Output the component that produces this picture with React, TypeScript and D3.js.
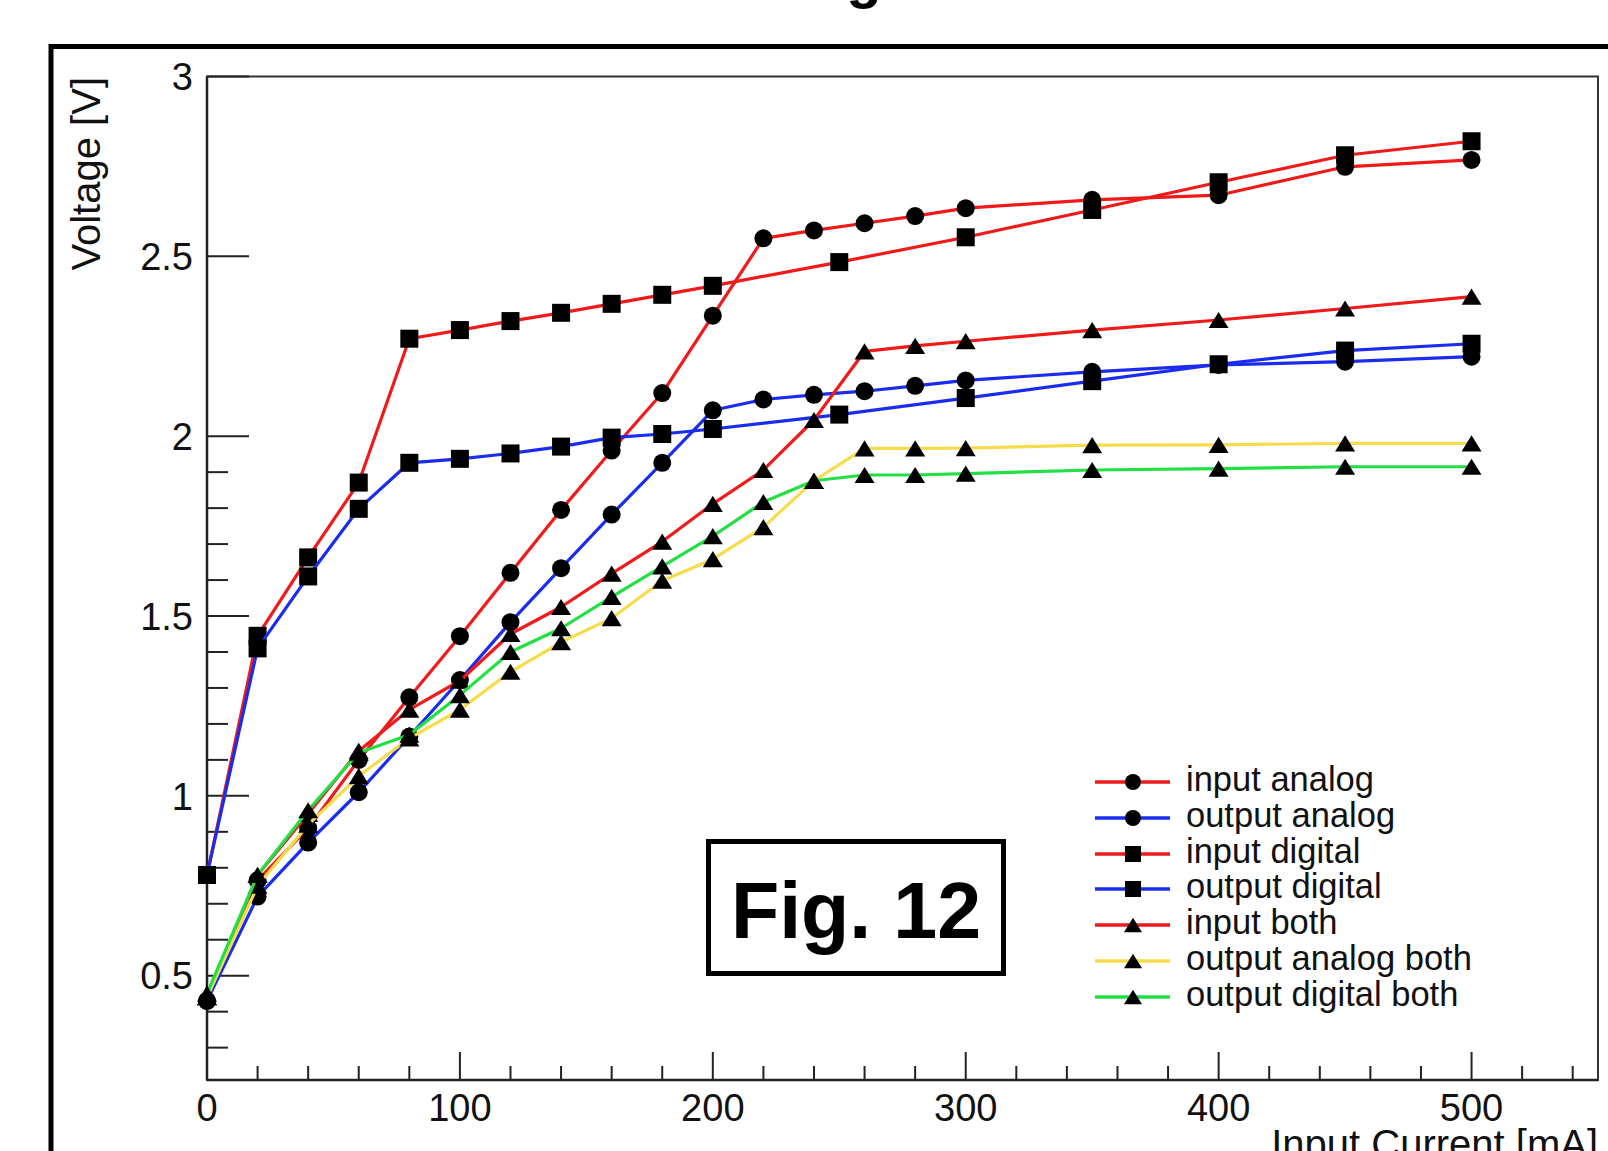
import React from "react";
import * as d3 from "d3";

const X_ANALOG = [0, 20, 40, 60, 80, 100, 120, 140, 160, 180, 200, 220, 240, 260, 280, 300, 350, 400, 450, 500];
const X_DIGITAL = [0, 20, 40, 60, 80, 100, 120, 140, 160, 180, 200, 250, 300, 350, 400, 450, 500];
const X_BOTH = [0, 20, 40, 60, 80, 100, 120, 140, 160, 180, 200, 220, 240, 260, 280, 300, 350, 400, 450, 500];

const inputAnalog = [0.43, 0.765, 0.91, 1.10, 1.274, 1.444, 1.62, 1.795, 1.96, 2.12, 2.335, 2.55, 2.572, 2.592, 2.612, 2.634, 2.657, 2.670, 2.749, 2.768];
const outputAnalog = [0.43, 0.72, 0.87, 1.01, 1.165, 1.322, 1.483, 1.633, 1.782, 1.926, 2.072, 2.102, 2.115, 2.125, 2.140, 2.155, 2.179, 2.198, 2.207, 2.221];
const inputDigital = [0.78, 1.445, 1.663, 1.871, 2.271, 2.295, 2.320, 2.343, 2.368, 2.393, 2.418, 2.484, 2.553, 2.629, 2.706, 2.781, 2.820];
const outputDigital = [0.78, 1.41, 1.61, 1.798, 1.926, 1.937, 1.952, 1.971, 1.996, 2.006, 2.020, 2.060, 2.106, 2.153, 2.200, 2.238, 2.257];
const inputBoth = [0.44, 0.78, 0.95, 1.125, 1.24, 1.32, 1.45, 1.525, 1.618, 1.707, 1.812, 1.906, 2.045, 2.236, 2.251, 2.264, 2.295, 2.323, 2.355, 2.388];
const outputAnalogBoth = [0.44, 0.75, 0.92, 1.055, 1.16, 1.24, 1.345, 1.427, 1.494, 1.598, 1.658, 1.747, 1.876, 1.966, 1.966, 1.967, 1.975, 1.976, 1.980, 1.980];
const outputDigitalBoth = [0.45, 0.78, 0.96, 1.12, 1.17, 1.28, 1.40, 1.466, 1.553, 1.638, 1.722, 1.817, 1.876, 1.892, 1.892, 1.896, 1.906, 1.910, 1.915, 1.915];

const X_TICKS = [0, 100, 200, 300, 400, 500];
const Y_TICKS = [0.5, 1, 1.5, 2, 2.5, 3];

const RED = "#f01a1a";
const BLUE = "#1a2cf0";
const YELLOW = "#f6dc4c";
const GREEN = "#22e044";

type Series = { name: string; xs: number[]; ys: number[]; color: string; marker: "circle" | "square" | "triangle" };

const SERIES: Series[] = [
  { name: "input analog", xs: X_ANALOG, ys: inputAnalog, color: RED, marker: "circle" },
  { name: "output analog", xs: X_ANALOG, ys: outputAnalog, color: BLUE, marker: "circle" },
  { name: "input digital", xs: X_DIGITAL, ys: inputDigital, color: RED, marker: "square" },
  { name: "output digital", xs: X_DIGITAL, ys: outputDigital, color: BLUE, marker: "square" },
  { name: "input both", xs: X_BOTH, ys: inputBoth, color: RED, marker: "triangle" },
  { name: "output analog both", xs: X_BOTH, ys: outputAnalogBoth, color: YELLOW, marker: "triangle" },
  { name: "output digital both", xs: X_BOTH, ys: outputDigitalBoth, color: GREEN, marker: "triangle" },
];

const FONT = "'Liberation Sans', Arial, Helvetica, sans-serif";

function Marker({ type, cx, cy, s }: { type: string; cx: number; cy: number; s: number }) {
  if (type === "circle") return <circle cx={cx} cy={cy} r={s / 2} fill="#000" />;
  if (type === "square") return <rect x={cx - s / 2} y={cy - s / 2} width={s} height={s} fill="#000" />;
  const h = s * 0.9;
  return (
    <path
      d={`M${cx - s / 2 - 1},${cy + h / 2} L${cx + s / 2 + 1},${cy + h / 2} L${cx},${cy - h / 2} Z`}
      fill="#000"
    />
  );
}

export default function App() {
  const W = 1608;
  const H = 1151;
  const left = 207;
  const right = 1598;
  const top = 76.5;
  const bottom = 1080;
  const x = d3.scaleLinear().domain([0, 550]).range([left, right]);
  const y = d3.scaleLinear().domain([0.21, 3.0]).range([bottom, top]);

  const line = (xs: number[], ys: number[]) =>
    d3
      .line<number>()
      .x((_, i) => x(xs[i]))
      .y((v) => y(v))(ys) as string;

  const xMinor = d3.range(0, 551, 20).filter((v) => v % 100 !== 0);
  const yMinor = d3.range(3, 20, 1).map((v) => v / 10 + 0.0).filter((v) => Math.round(v * 10) % 5 !== 0 && v <= 3.0001);

  const legendRows = [782, 818, 854, 889, 925, 961, 997];

  return (
    <svg
      width={W}
      height={H}
      style={{ position: "absolute", left: 0, top: 0, background: "#fff" }}
      fontFamily={FONT}
    >
      <rect x={0} y={0} width={W} height={H} fill="#fff" />
      {/* partial title cut off at the top */}
      <text x={864} y={-3} fontSize={58} fontWeight="bold" textAnchor="middle" fill="#000">
        g
      </text>
      {/* outer frame */}
      <rect x={51} y={46.5} width={1700} height={1300} fill="none" stroke="#000" strokeWidth={5} />

      {/* plot frame */}
      <rect x={left} y={top} width={right - left} height={bottom - top} fill="none" stroke="#333" strokeWidth={2} />

      {/* y axis ticks */}
      {Y_TICKS.map((t) => (
        <g key={"yt" + t}>
          <line x1={left} x2={left + 42} y1={y(t)} y2={y(t)} stroke="#222" strokeWidth={2} />
          <text x={193} y={y(t)} dy="0.36em" fontSize={38} textAnchor="end" fill="#111">
            {t}
          </text>
        </g>
      ))}
      {yMinor.map((t) => (
        <line key={"ym" + t} x1={left} x2={left + 21} y1={y(t)} y2={y(t)} stroke="#222" strokeWidth={2} />
      ))}

      {/* x axis ticks */}
      {X_TICKS.map((t) => (
        <g key={"xt" + t}>
          <line x1={x(t)} x2={x(t)} y1={bottom} y2={bottom - 28} stroke="#222" strokeWidth={2} />
          <text x={x(t)} y={1121} fontSize={38} textAnchor="middle" fill="#111">
            {t}
          </text>
        </g>
      ))}
      {xMinor.map((t) => (
        <line key={"xm" + t} x1={x(t)} x2={x(t)} y1={bottom} y2={bottom - 14} stroke="#222" strokeWidth={2} />
      ))}
      <line x1={left} x2={left} y1={top} y2={bottom} stroke="#222" strokeWidth={2.5} />
      <line x1={left} x2={right} y1={bottom} y2={bottom} stroke="#222" strokeWidth={2.5} />

      {/* axis titles */}
      <text
        transform={`translate(100, 77) rotate(-90)`}
        fontSize={40}
        textAnchor="end"
        fill="#111"
      >
        Voltage [V]
      </text>
      <text x={1598} y={1158} fontSize={40} textAnchor="end" fill="#111">
        Input Current [mA]
      </text>

      {/* data */}
      {SERIES.map((s) => (
        <g key={s.name}>
          <path d={line(s.xs, s.ys)} fill="none" stroke={s.color} strokeWidth={3.2} strokeLinejoin="round" />
          {s.ys.map((v, i) => (
            <Marker key={i} type={s.marker} cx={x(s.xs[i])} cy={y(v)} s={18} />
          ))}
        </g>
      ))}

      {/* legend */}
      {SERIES.map((s, i) => (
        <g key={"lg" + s.name}>
          <line x1={1095} x2={1170} y1={legendRows[i]} y2={legendRows[i]} stroke={s.color} strokeWidth={3.5} />
          <Marker type={s.marker} cx={1133} cy={legendRows[i]} s={16} />
          <text x={1186} y={legendRows[i] + 9} fontSize={34.5} fill="#111">
            {s.name}
          </text>
        </g>
      ))}

      {/* Fig. 12 box */}
      <rect x={708.5} y={841.5} width={295} height={132} fill="#fff" stroke="#000" strokeWidth={5} />
      <text x={856} y={938} fontSize={79} fontWeight="bold" textAnchor="middle" fill="#000">
        Fig. 12
      </text>
    </svg>
  );
}
